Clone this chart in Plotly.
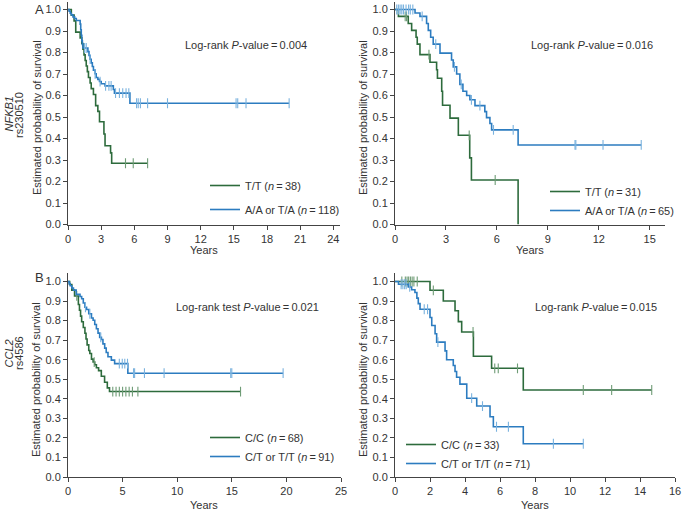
import plotly.graph_objects as go

W, H = 683, 512
GREEN = "#2d6b3c"
BLUE = "#2c7cc0"
GREEN_TICK = "#6f9c76"
BLUE_TICK = "#7ab2de"
FONT = "Liberation Sans, Arial, sans-serif"

# ---- A left: NFKB1 rs230510 (all years)
a1_tt_time = [0.3, 0.55, 0.7, 1.1, 1.25, 1.35, 1.45, 1.55, 1.65, 1.75, 1.85, 2.0, 2.1,
              2.3, 2.5, 2.7, 2.85, 3.25, 3.35, 3.85, 3.95]
a1_tt_surv = [0.974, 0.947, 0.895, 0.868, 0.842, 0.816, 0.789, 0.763, 0.737, 0.711, 0.684,
              0.658, 0.632, 0.605, 0.553, 0.526, 0.478, 0.421, 0.366, 0.333, 0.285]
a1_tt_end = 7.2
a1_tt_cens = [5.2, 5.9, 7.2]

a1_aa_time = [0.1, 0.2, 0.3, 0.45, 0.6, 0.75, 1.1, 1.15, 1.2, 1.25, 1.3, 1.35, 1.8, 1.9,
              2.0, 2.1, 2.2, 2.3, 2.45, 2.55, 2.7, 2.85, 3.0, 3.35, 4.1, 4.2, 5.6]
a1_aa_surv = [0.992, 0.983, 0.975, 0.966, 0.958, 0.949, 0.932, 0.906, 0.88, 0.855, 0.838,
              0.821, 0.804, 0.786, 0.769, 0.752, 0.735, 0.718, 0.701, 0.684, 0.675, 0.665,
              0.655, 0.645, 0.628, 0.611, 0.564]
a1_aa_end = 20.0
a1_aa_cens = [1.5, 1.65, 2.0, 2.45, 2.9, 3.4, 3.7, 3.9, 4.3, 4.65, 4.95, 5.25, 5.5, 6.2,
              6.35, 6.55, 7.2, 9.0, 15.2, 15.35, 16.1, 20.0]

# ---- A right: NFKB1 rs230510 (subgroup)
a2_tt_time = [0.2, 0.78, 0.98, 1.24, 1.31, 1.47, 2.06, 2.45, 2.5, 2.75, 2.8, 3.24, 3.73,
              4.4, 4.5, 7.25]
a2_tt_surv = [0.968, 0.935, 0.903, 0.871, 0.839, 0.79, 0.755, 0.72, 0.68, 0.62, 0.555,
              0.495, 0.415, 0.31, 0.207, 0.0]
a2_tt_end = 7.25
a2_tt_cens = [0.6, 0.68, 2.0, 4.37, 5.9]

a2_aa_time = [1.18, 1.47, 1.86, 1.96, 2.1, 2.25, 2.65, 3.33, 3.43, 3.63, 3.82, 4.0, 4.22,
              4.41, 4.71, 5.29, 5.39, 5.59, 5.69, 7.25]
a2_aa_surv = [0.984, 0.968, 0.935, 0.903, 0.871, 0.839, 0.797, 0.765, 0.733, 0.70, 0.652,
              0.62, 0.60, 0.58, 0.553, 0.525, 0.497, 0.47, 0.44, 0.37]
a2_aa_end = 14.5
a2_aa_cens = [0.1, 0.2, 0.3, 0.4, 0.5, 0.65, 0.8, 0.9, 1.05, 1.6, 2.4, 3.5, 3.9, 4.5,
              5.0, 5.8, 6.96, 10.6, 10.65, 12.25, 14.5]

# ---- B left: CCL2 rs4586 (all years)
b1_cc_time = [0.15, 0.35, 0.6, 0.95, 1.05, 1.15, 1.25, 1.4, 1.55, 1.65, 1.75, 1.9, 2.0,
              2.15, 2.3, 2.45, 2.6, 2.8, 3.05, 3.35, 3.6, 3.8]
b1_cc_surv = [0.985, 0.956, 0.926, 0.882, 0.853, 0.823, 0.794, 0.765, 0.735, 0.706, 0.676,
              0.647, 0.632, 0.603, 0.588, 0.574, 0.559, 0.544, 0.515, 0.485, 0.456, 0.437]
b1_cc_end = 15.8
b1_cc_cens = [0.8, 2.4, 4.1, 4.4, 4.7, 5.0, 5.3, 5.6, 5.9, 6.4, 15.8]

b1_ct_time = [0.1, 0.2, 0.35, 0.5, 0.75, 1.1, 1.25, 1.4, 1.55, 1.7, 1.9, 2.15, 2.3, 2.45,
              2.6, 2.75, 2.9, 3.06, 3.2, 3.36, 3.5, 3.66, 3.97, 4.27, 5.48]
b1_ct_surv = [0.989, 0.978, 0.967, 0.956, 0.934, 0.923, 0.912, 0.89, 0.868, 0.857, 0.835,
              0.813, 0.802, 0.78, 0.758, 0.736, 0.714, 0.703, 0.681, 0.659, 0.637, 0.615,
              0.598, 0.58, 0.531]
b1_ct_end = 19.7
b1_ct_cens = [1.6, 2.0, 3.0, 4.7, 4.97, 5.2, 5.45, 6.0, 6.1, 7.0, 8.8, 14.9, 15.0, 19.7]

# ---- B right: CCL2 rs4586 (subgroup)
b2_cc_time = [2.0, 2.76, 3.43, 3.62, 3.81, 4.48, 5.52, 7.33]
b2_cc_surv = [0.955, 0.9, 0.85, 0.795, 0.742, 0.618, 0.556, 0.445]
b2_cc_end = 14.67
b2_cc_cens = [0.39, 0.59, 0.69, 0.78, 0.88, 0.98, 1.08, 1.27, 2.19, 4.46, 5.7, 5.9, 7.0,
              10.76, 12.38, 14.67]

b2_ct_time = [0.2, 0.76, 0.95, 1.14, 1.25, 1.33, 1.43, 2.0, 2.1, 2.29, 2.38, 2.86, 2.95,
              3.33, 3.43, 3.52, 3.71, 4.1, 4.67, 5.43, 5.62, 7.33]
b2_ct_surv = [0.986, 0.972, 0.958, 0.944, 0.915, 0.887, 0.858, 0.816, 0.775, 0.733, 0.69,
              0.645, 0.6, 0.57, 0.54, 0.51, 0.475, 0.403, 0.363, 0.308, 0.257, 0.17]
b2_ct_end = 10.76
b2_ct_cens = [0.35, 0.45, 0.55, 0.64, 0.84, 1.67, 1.86, 2.45, 4.38, 5.0, 5.8, 6.48, 9.05,
              10.76]

legend_names = {
    "a1": ["T/T (<i>n</i>\u2009=\u200938)", "A/A or T/A (<i>n</i>\u2009=\u2009118)"],
    "a2": ["T/T (<i>n</i>\u2009=\u200931)", "A/A or T/A (<i>n</i>\u2009=\u200965)"],
    "b1": ["C/C (<i>n</i>\u2009=\u200968)", "C/T or T/T (<i>n</i>\u2009=\u200991)"],
    "b2": ["C/C (<i>n</i>\u2009=\u200933)", "C/T or T/T (<i>n</i>\u2009=\u200971)"],
}
pvalue_text = {
    "a1": "Log-rank <i>P</i>-value\u2009=\u20090.004",
    "a2": "Log-rank <i>P</i>-value\u2009=\u20090.016",
    "b1": "Log-rank test <i>P</i>-value\u2009=\u20090.021",
    "b2": "Log-rank <i>P</i>-value\u2009=\u20090.015",
}


def surv_at(times, surv, t):
    s = 1.0
    for ti, si in zip(times, surv):
        if ti <= t:
            s = si
    return s


def add_km(fig, times, surv, end, cens, color, tick_color, name, xa, ya, legend):
    fig.add_trace(go.Scatter(
        x=[0] + times + [end], y=[1.0] + surv + [surv[-1]],
        mode="lines", line=dict(color=color, width=1.6, shape="hv"),
        name=name, legend=legend, legendgroup=name + legend,
        xaxis=xa, yaxis=ya, hoverinfo="skip"))
    fig.add_trace(go.Scatter(
        x=cens, y=[surv_at(times, surv, t) for t in cens],
        mode="markers",
        marker=dict(symbol="line-ns", size=7, line=dict(color=tick_color, width=1.1)),
        showlegend=False, hoverinfo="skip", xaxis=xa, yaxis=ya))


def px(x):
    return x / W


def py(y):
    return 1 - y / H


fig = go.Figure()

add_km(fig, a1_tt_time, a1_tt_surv, a1_tt_end, a1_tt_cens, GREEN, GREEN_TICK,
       legend_names["a1"][0], "x", "y", "legend")
add_km(fig, a1_aa_time, a1_aa_surv, a1_aa_end, a1_aa_cens, BLUE, BLUE_TICK,
       legend_names["a1"][1], "x", "y", "legend")
add_km(fig, a2_tt_time, a2_tt_surv, a2_tt_end, a2_tt_cens, GREEN, GREEN_TICK,
       legend_names["a2"][0], "x2", "y2", "legend2")
add_km(fig, a2_aa_time, a2_aa_surv, a2_aa_end, a2_aa_cens, BLUE, BLUE_TICK,
       legend_names["a2"][1], "x2", "y2", "legend2")
add_km(fig, b1_cc_time, b1_cc_surv, b1_cc_end, b1_cc_cens, GREEN, GREEN_TICK,
       legend_names["b1"][0], "x3", "y3", "legend3")
add_km(fig, b1_ct_time, b1_ct_surv, b1_ct_end, b1_ct_cens, BLUE, BLUE_TICK,
       legend_names["b1"][1], "x3", "y3", "legend3")
add_km(fig, b2_cc_time, b2_cc_surv, b2_cc_end, b2_cc_cens, GREEN, GREEN_TICK,
       legend_names["b2"][0], "x4", "y4", "legend4")
add_km(fig, b2_ct_time, b2_ct_surv, b2_ct_end, b2_ct_cens, BLUE, BLUE_TICK,
       legend_names["b2"][1], "x4", "y4", "legend4")

axis_common = dict(showline=True, linecolor="#444", linewidth=1, ticks="outside",
                   ticklen=4, tickcolor="#444", showgrid=False, zeroline=False,
                   automargin=False,
                   tickfont=dict(size=11, color="#333", family=FONT))
ytop = [py(224.5), py(2)]
ybot = [py(477), py(272.7)]

legend_common = dict(xanchor="left", yanchor="top", bgcolor="rgba(0,0,0,0)",
                     font=dict(size=11, color="#333", family=FONT), tracegroupgap=0)

fig.update_layout(
    width=W, height=H, margin=dict(l=0, r=0, t=0, b=0, autoexpand=False),
    paper_bgcolor="white", plot_bgcolor="white",
    font=dict(family=FONT, size=11, color="#333"),
    xaxis=dict(axis_common, domain=[px(68), px(340)], range=[0, 24.6], dtick=3, anchor="y"),
    yaxis=dict(axis_common, domain=ytop, range=[0, 1.035], dtick=0.1, tickformat=".1f", anchor="x"),
    xaxis2=dict(axis_common, domain=[px(395), px(665)], range=[0, 15.9], dtick=3, anchor="y2"),
    yaxis2=dict(axis_common, domain=ytop, range=[0, 1.035], dtick=0.1, tickformat=".1f", anchor="x2"),
    xaxis3=dict(axis_common, domain=[px(68), px(341)], range=[0, 25], dtick=5, anchor="y3"),
    yaxis3=dict(axis_common, domain=ybot, range=[0, 1.045], dtick=0.1, tickformat=".1f", anchor="x3"),
    xaxis4=dict(axis_common, domain=[px(395), px(675)], range=[0, 16], dtick=2, anchor="y4"),
    yaxis4=dict(axis_common, domain=ybot, range=[0, 1.045], dtick=0.1, tickformat=".1f", anchor="x4"),
    legend=dict(legend_common, x=px(205), y=py(184 - 13), tracegroupgap=5),
    legend2=dict(legend_common, x=px(545), y=py(190 - 13)),
    legend3=dict(legend_common, x=px(205), y=py(436 - 13)),
    legend4=dict(legend_common, x=px(401), y=py(443 - 13)),
)

annotations = []


def note(text, x, y, size=11, angle=0):
    annotations.append(dict(text=text, x=px(x), y=py(y), xref="paper", yref="paper",
                            showarrow=False, textangle=angle, xanchor="center",
                            yanchor="middle", font=dict(size=size, color="#333", family=FONT)))


ytitle = "Estimated probability of survival"
note(ytitle, 37, 118, angle=-90)
note(ytitle, 363, 118, angle=-90)
note(ytitle, 36, 380, angle=-90)
note(ytitle, 363, 380, angle=-90)
for xc in (204, 530):
    note("Years", xc, 250)
for xc in (204, 535):
    note("Years", xc, 505)
note(pvalue_text["a1"], 246, 45)
note(pvalue_text["a2"], 592, 45)
note(pvalue_text["b1"], 247, 307)
note(pvalue_text["b2"], 596, 307)
note("<i>NFKB1</i>", 8.5, 114, angle=-90)
note("rs230510", 19, 115, angle=-90)
note("<i>CCL2</i>", 8.5, 354, angle=-90)
note("rs4586", 19, 353, angle=-90)
note("A", 39, 9, size=13)
note("B", 39, 277, size=13)

fig.update_layout(annotations=annotations)
# the page's default body margin would push the figure 8px in; remove it
fig.write_html("out.html", config={"displayModeBar": False},
               post_script="document.body.style.margin = '0';")
